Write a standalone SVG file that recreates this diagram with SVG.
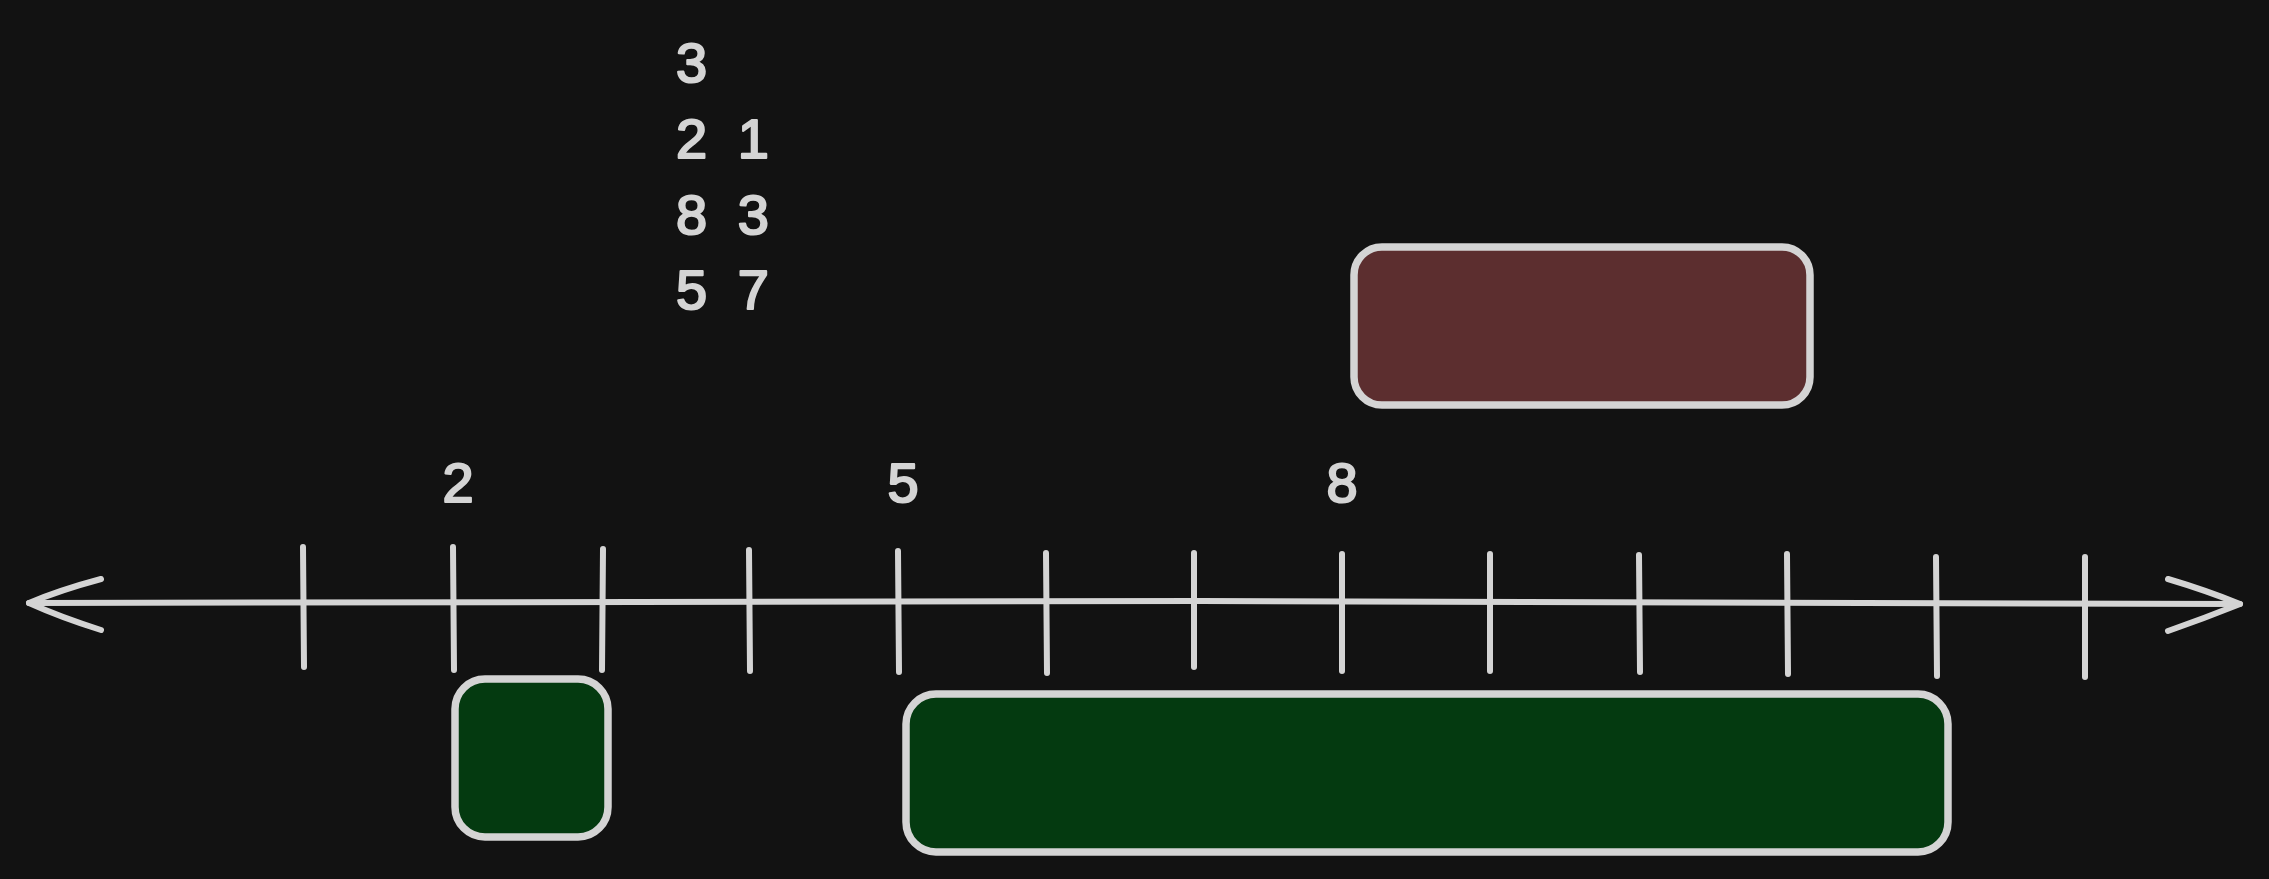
<svg xmlns="http://www.w3.org/2000/svg" width="2269" height="879" viewBox="0 0 2269 879">
  <style>
    .ink { stroke: #d4d4d4; fill: none; stroke-width: 6; stroke-linecap: round; stroke-linejoin: round; }
    .box { stroke: #d4d4d4; stroke-width: 7.5; stroke-linejoin: round; }
    .txt { font-family: "Liberation Sans", "DejaVu Sans", sans-serif; font-size: 56px; fill: #d4d4d4; stroke: #d4d4d4; stroke-width: 2.2; stroke-linejoin: round; }
  </style>
  <rect x="0" y="0" width="2269" height="879" fill="#121212"/>

  <g id="connectors">
    <path class="ink" d="M29 603 L1200 601 L2240 604"/>
    <path class="ink" d="M101 579 Q60 590 29 603 Q60 617 101 630"/>
    <path class="ink" d="M2168 579 Q2205 590 2240 604 Q2205 618 2168 631"/>
  </g>

  <g id="ticks">
    <line class="ink" x1="303" y1="547" x2="304" y2="667"/>
    <line class="ink" x1="453" y1="547" x2="454" y2="670"/>
    <line class="ink" x1="603" y1="549" x2="602" y2="670"/>
    <line class="ink" x1="749" y1="550" x2="750" y2="671"/>
    <line class="ink" x1="898" y1="551" x2="899" y2="672"/>
    <line class="ink" x1="1046" y1="553" x2="1047" y2="673"/>
    <line class="ink" x1="1194" y1="553" x2="1194" y2="667"/>
    <line class="ink" x1="1342" y1="554" x2="1342" y2="671"/>
    <line class="ink" x1="1490" y1="554" x2="1490" y2="671"/>
    <line class="ink" x1="1639" y1="555" x2="1640" y2="672"/>
    <line class="ink" x1="1787" y1="554" x2="1788" y2="674"/>
    <line class="ink" x1="1936" y1="557" x2="1937" y2="676"/>
    <line class="ink" x1="2085" y1="557" x2="2085" y2="677"/>
  </g>

  <g id="list-text">
    <text class="txt" x="676" y="82">3</text>
    <text class="txt" x="676" y="158" word-spacing="15">2 1</text>
    <text class="txt" x="676" y="234" word-spacing="15">8 3</text>
    <text class="txt" x="676" y="309" word-spacing="15">5 7</text>
  </g>

  <g id="label-2"><text class="txt" x="458" y="502" text-anchor="middle">2</text></g>
  <g id="label-5"><text class="txt" x="903" y="502" text-anchor="middle">5</text></g>
  <g id="label-8"><text class="txt" x="1342" y="502" text-anchor="middle">8</text></g>

  <g id="red-box">
    <rect class="box" x="1354" y="247" width="456" height="158" rx="28" fill="#5c2e2f"/>
  </g>
  <g id="green-box-small">
    <rect class="box" x="455" y="679" width="153" height="158" rx="30" fill="#043a10"/>
  </g>
  <g id="green-box-large">
    <rect class="box" x="906" y="694" width="1042" height="158" rx="30" fill="#043a10"/>
  </g>
</svg>
